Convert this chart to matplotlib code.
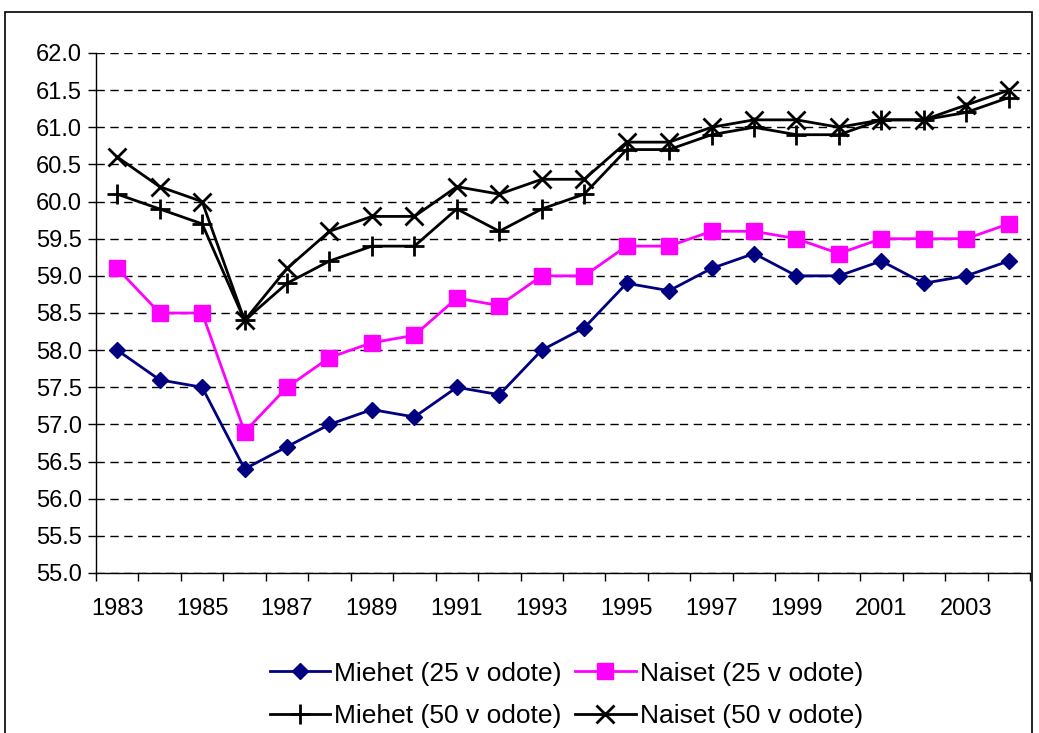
import matplotlib
matplotlib.use("Agg")
import matplotlib.pyplot as plt
from matplotlib.patches import Rectangle
import numpy as np

plt.rcParams["font.family"] = ["Liberation Sans", "DejaVu Sans"]

years = list(range(1983, 2005))
miehet_25 = [58.0, 57.6, 57.5, 56.4, 56.7, 57.0, 57.2, 57.1, 57.5, 57.4, 58.0,
             58.3, 58.9, 58.8, 59.1, 59.3, 59.0, 59.0, 59.2, 58.9, 59.0, 59.2]
naiset_25 = [59.1, 58.5, 58.5, 56.9, 57.5, 57.9, 58.1, 58.2, 58.7, 58.6, 59.0,
             59.0, 59.4, 59.4, 59.6, 59.6, 59.5, 59.3, 59.5, 59.5, 59.5, 59.7]
miehet_50 = [60.1, 59.9, 59.7, 58.4, 58.9, 59.2, 59.4, 59.4, 59.9, 59.6, 59.9,
             60.1, 60.7, 60.7, 60.9, 61.0, 60.9, 60.9, 61.1, 61.1, 61.2, 61.4]
naiset_50 = [60.6, 60.2, 60.0, 58.4, 59.1, 59.6, 59.8, 59.8, 60.2, 60.1, 60.3,
             60.3, 60.8, 60.8, 61.0, 61.1, 61.1, 61.0, 61.1, 61.1, 61.3, 61.5]

labels = ["Miehet (25 v odote)", "Naiset (25 v odote)",
          "Miehet (50 v odote)", "Naiset (50 v odote)"]

fig = plt.figure(figsize=(10.39, 7.33), dpi=100)
ax = fig.add_axes([0.0924, 0.2183, 0.8989, 0.7094])

x = np.arange(len(years))
l1, = ax.plot(x, miehet_25, color="#000080", lw=2, marker="D", ms=8, label=labels[0])
l2, = ax.plot(x, naiset_25, color="#FF00FF", lw=2, marker="s", ms=11, label=labels[1])
l3, = ax.plot(x, miehet_50, color="black", lw=2, marker="+", ms=15, mew=2, label=labels[2])
l4, = ax.plot(x, naiset_50, color="black", lw=2, marker="x", ms=13, mew=2, label=labels[3])

ax.set_ylim(55.0, 62.0)
ax.set_yticks(np.arange(55.0, 62.01, 0.5))
ax.set_yticklabels([f"{v:.1f}" for v in np.arange(55.0, 62.01, 0.5)])
ax.set_xlim(-0.5, len(years) - 0.5)
ax.set_xticks(np.arange(-0.5, len(years), 1.0))
ax.set_xticklabels([])
ax.set_xticks(x[::2], minor=True)
ax.set_xticklabels([str(y) for y in years[::2]], minor=True)
ax.tick_params(axis="x", which="major", length=6, width=1, direction="out")
ax.tick_params(axis="x", which="minor", length=0, pad=18, labelsize=17)
ax.tick_params(axis="y", length=6, width=1, labelsize=17, pad=4)

ax.yaxis.grid(True, linestyle=(0, (6, 4)), color="black", lw=1)
ax.set_axisbelow(True)
for s in ["top", "right"]:
    ax.spines[s].set_visible(False)
ax.spines["left"].set_linewidth(1)
ax.spines["bottom"].set_linewidth(1)

# matplotlib fills legend column-first; order so rows read 25 v / 50 v
fig.legend(handles=[l1, l3, l2, l4], loc="center", bbox_to_anchor=(0.545, 0.052),
           ncol=2, frameon=False, fontsize=19, handlelength=2.3,
           handletextpad=0.15, columnspacing=0.5, labelspacing=0.7)

fig.patches.append(Rectangle((5 / 1039, -0.05), 1027 / 1039, 1.05 - 12 / 733,
                             transform=fig.transFigure, fill=False,
                             edgecolor="black", lw=1.2))

fig.savefig("out.png", dpi=100)
